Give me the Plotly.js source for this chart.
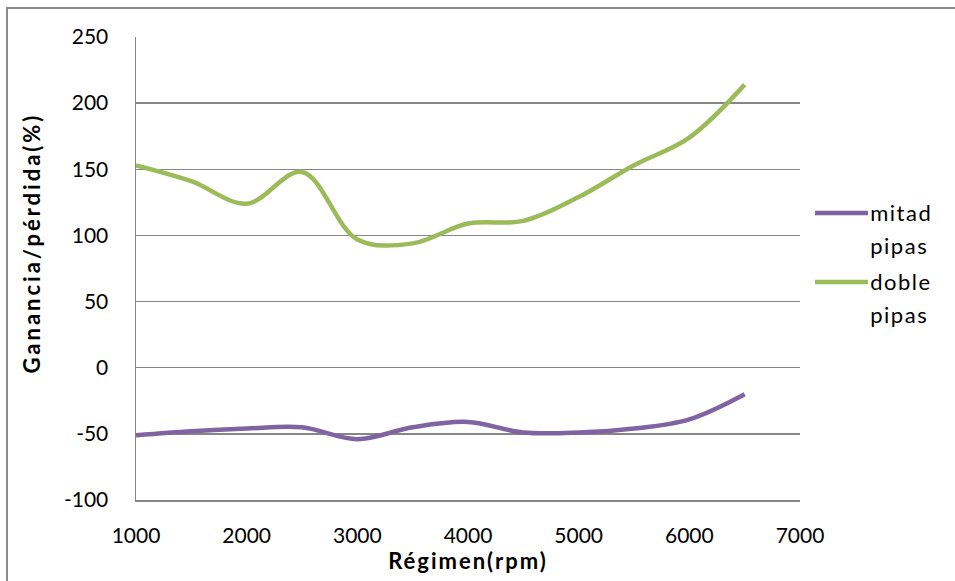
<!DOCTYPE html>
<html>
<head>
<meta charset="utf-8">
<script src="https://cdn.plot.ly/plotly-3.0.1.min.js"></script>
<style>
  html, body { margin: 0; padding: 0; background: #fff; }
  #wrap { position: relative; width: 955px; height: 581px; overflow: hidden; }
  #frame { position: absolute; left: 6px; top: 7px; width: 960px; height: 590px;
           border-top: 2px solid #8c8c8c; border-left: 2px solid #8c8c8c; box-sizing: border-box; pointer-events: none; }
  #chart { position: absolute; left: 0; top: 0; width: 955px; height: 581px; }
  /* wider tracking for the axis titles and legend labels */
  #chart .g-xtitle text { letter-spacing: 2px; }
  #chart .annotation text { letter-spacing: 1.5px; }
  #chart .annotation[data-index="0"] text { letter-spacing: 3px; }
</style>
</head>
<body>
<div id="wrap">
  <div id="chart"></div>
  <div id="frame"></div>
</div>
<script>
// Engine speed (rpm) and relative gain/loss (%) for the two pipe configurations
const regimen = [1000, 1500, 2000, 2500, 3000, 3500, 4000, 4500, 5000, 5500, 6000, 6500];
const mitadPipas = [-51, -48, -46, -45, -54, -45, -41, -49, -49, -46, -39, -20];
const doblePipas = [153, 141, 124, 148, 97, 94, 109, 111, 129, 153, 174, 214];

const seriesNames = ['mitad pipas', 'doble pipas'];
const seriesColors = ['#8064A2', '#9BBB59'];
const xTicks = [1000, 2000, 3000, 4000, 5000, 6000, 7000];
const yTicks = [-100, -50, 0, 50, 100, 150, 200, 250];
const xTitle = 'Régimen(rpm)';
const yTitle = 'Ganancia/pérdida(%)';

const font = 'Lato, "Open Sans", "DejaVu Sans", sans-serif';

const traces = [mitadPipas, doblePipas].map((vals, i) => ({
  x: regimen, y: vals, name: seriesNames[i], type: 'scatter', mode: 'lines',
  showlegend: false,
  line: { color: seriesColors[i], width: 4.5, shape: 'spline', smoothing: 1 }
}));

// Legend drawn beside the plot: a line sample and the wrapped series name
const legendTop = 0.62, legendStep = 0.149, lineGap = 33;
const shapes = [];
const annotations = [{
  text: '<b>' + yTitle + '</b>', xref: 'paper', yref: 'paper',
  x: -0.158, y: 0.555, xanchor: 'center', yanchor: 'middle', textangle: -90,
  showarrow: false, font: { family: font, size: 22, color: '#000' }
}];
seriesNames.forEach((name, i) => {
  const yy = legendTop - i * legendStep;
  shapes.push({
    type: 'line', xref: 'paper', yref: 'paper', x0: 1.0226, x1: 1.1024, y0: yy, y1: yy,
    line: { color: seriesColors[i], width: 4.5 }
  });
  name.split(' ').forEach((word, k) => {
    annotations.push({
      text: word, xref: 'paper', yref: 'paper', x: 1.108, y: yy, yshift: -k * lineGap,
      xanchor: 'left', yanchor: 'middle', showarrow: false,
      font: { family: font, size: 22, color: '#000' }
    });
  });
});

const layout = {
  width: 955, height: 581,
  margin: { l: 136, r: 155, t: 37, b: 81 },
  paper_bgcolor: '#ffffff', plot_bgcolor: '#ffffff',
  font: { family: font, size: 21, color: '#000' },
  showlegend: false,
  shapes: shapes,
  annotations: annotations,
  xaxis: {
    range: [1000, 7000], tickvals: xTicks, ticktext: xTicks.map(String),
    showgrid: false, zeroline: false, showline: true, linecolor: '#868686', linewidth: 1.5,
    ticks: '', ticklabelstandoff: 16, tickfont: { family: font, size: 21 },
    title: { text: '<b>' + xTitle + '</b>', font: { family: font, size: 22 }, standoff: 6 }
  },
  yaxis: {
    range: [-100, 250], tickvals: yTicks, ticktext: yTicks.map(String),
    showgrid: true, gridcolor: '#868686', gridwidth: 1.5, zeroline: false,
    showline: true, linecolor: '#868686', linewidth: 1.5, ticks: '',
    ticklabelstandoff: 22, tickfont: { family: font, size: 21 }
  }
};

Plotly.newPlot('chart', traces, layout, { displayModeBar: false, staticPlot: true });
</script>
</body>
</html>
